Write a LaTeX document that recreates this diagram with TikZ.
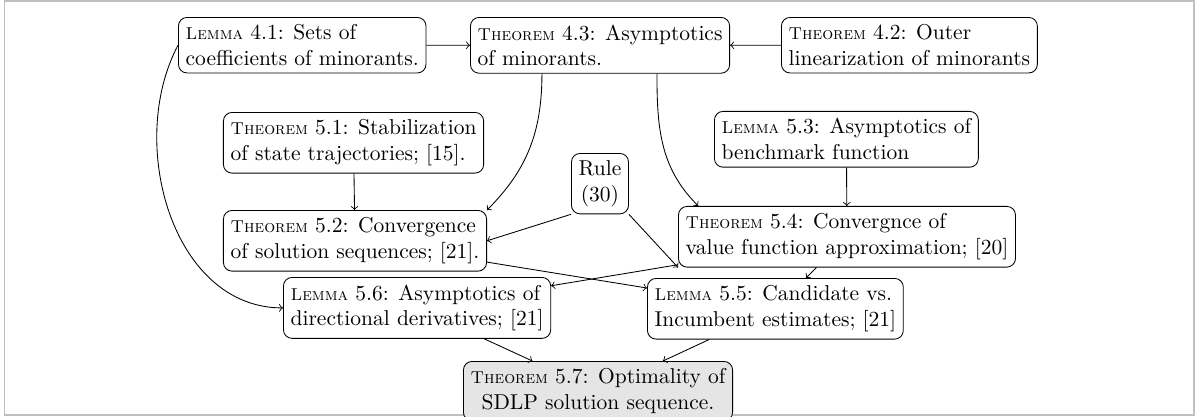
\documentclass[tikz,border=0pt]{standalone}
\usepackage{xcolor}
\usepackage{tikz}

\begin{document}
\begin{tikzpicture}[
		box/.style={draw,rounded corners,align=left,anchor=north west},
		goal/.style={box,fill=gray!20,align=center}]
		\def\sclab#1{{\footnotesize\textsc{#1}}}
		\useasboundingbox (0,0) rectangle (19.533,-6.816);
		\draw [gray!50,line width=0.7pt] (0.074,-0.016) rectangle (19.517,-6.784);
		% first row
		\node [box] (l41) at (2.910,-0.278) {\sclab{Lemma} 4.1: Sets of\\coefficients of minorants.};
		\node [box] (t43) at (7.683,-0.278) {\sclab{Theorem} 4.3: Asymptotics\\of minorants.};
		\node [box] (t42) at (12.766,-0.278) {\sclab{Theorem} 4.2: Outer\\linearization of minorants};
		% middle
		\node [box] (t51) at (3.645,-1.831) {\sclab{Theorem} 5.1: Stabilization\\of state trajectories; [15].};
		\node [box] (l53) at (11.671,-1.814) {\sclab{Lemma} 5.3: Asymptotics of\\benchmark function};
		\node [box,align=center] (rule) at (9.334,-2.501) {Rule\\(30)};
		\node [box] (t52) at (3.645,-3.433) {\sclab{Theorem} 5.2: Convergence\\of solution sequences; [21].};
		\node [box] (t54) at (11.083,-3.367) {\sclab{Theorem} 5.4: Convergnce of\\value function approximation; [20]};
		\node [box] (l56) at (4.626,-4.528) {\sclab{Lemma} 5.6: Asymptotics of\\directional derivatives; [21]};
		\node [box] (l55) at (10.576,-4.544) {\sclab{Lemma} 5.5: Candidate vs.\\Incumbent estimates; [21]};
		\node [goal] (t57) at (7.568,-5.901) {\sclab{Theorem} 5.7: Optimality of\\SDLP solution sequence.};
		% arrows
		\draw [->] (l41) -- (t43);
		\draw [->] (t42) -- (t43);
		\draw [->] (l41.west) to[out=242,in=180] (l56.west);
		\draw [->] ([xshift=-0.95cm]t43.south) to[out=270,in=45] (t52.north east);
		\draw [->] ([xshift=0.93cm]t43.south) to[out=270,in=135] ([xshift=0.33cm]t54.north west);
		\draw [->] (t51) -- (t52);
		\draw [->] (l53) -- (t54);
		\draw [->] (rule.south west) -- (t52.east);
		\draw [->] (rule.south east) -- (t54.south west);
		\draw [->] (t52) -- (l55);
		\draw [->] (t54) -- (l56);
		\draw [->] (t54) -- (l55);
		\draw [->] (l56) -- (t57);
		\draw [->] (l55) -- (t57);
	\end{tikzpicture}
\end{document}
